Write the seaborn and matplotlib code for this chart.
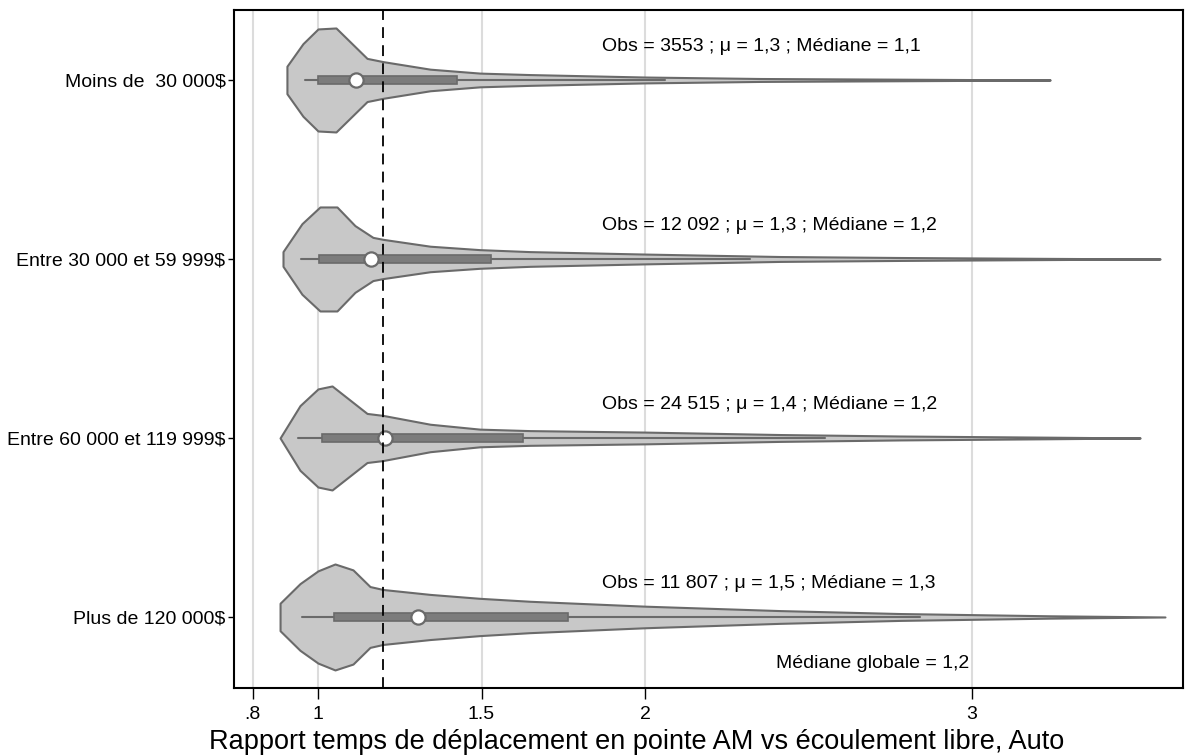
import numpy as np
import matplotlib
matplotlib.use("Agg")
import matplotlib.pyplot as plt
import seaborn as sns

# ---------------- data ----------------
categories = ["Moins de  30 000$", "Entre 30 000 et 59 999$",
              "Entre 60 000 et 119 999$", "Plus de 120 000$"]

# density outlines: x values and relative half-widths
dens_x = [
    [0.905, 0.905, 0.954, 1.000, 1.055, 1.150, 1.199, 1.343, 1.495, 1.648, 2.000, 2.352, 2.780, 3.239],
    [0.893, 0.893, 0.951, 1.006, 1.058, 1.113, 1.168, 1.199, 1.343, 1.495, 1.648, 2.000, 2.413, 2.780, 3.239, 3.575],
    [0.884, 0.945, 1.000, 1.043, 1.150, 1.199, 1.343, 1.495, 1.648, 2.000, 2.413, 2.780, 3.239, 3.514],
    [0.884, 0.884, 0.945, 1.000, 1.052, 1.107, 1.159, 1.199, 1.343, 1.495, 1.648, 2.000, 2.413, 2.780, 3.239, 3.590],
]
dens_h = [
    [0, 14, 37, 52, 53, 22, 18.7, 11, 7, 5.5, 3, 1.5, 0.8, 0],
    [0, 7.5, 36, 53, 53, 34, 22, 20, 13, 9.5, 7.5, 5, 2.5, 1.5, 0.6, 0],
    [0, 33, 50, 53, 25, 23, 14, 9, 7.5, 6, 3.5, 2, 0.8, 0],
    [0, 14, 34, 47, 54, 48, 31, 28, 23, 19, 16, 11, 6.5, 3.5, 1.2, 0],
]

whisk_lo = [0.960, 0.948, 0.939, 0.951]
q1 = [1.000, 1.003, 1.012, 1.049]
medians = [1.116, 1.162, 1.205, 1.306]
q3 = [1.425, 1.529, 1.627, 1.765]
whisk_hi = [2.06, 2.32, 2.55, 2.84]

annotations = ["Obs = 3553 ; μ = 1,3 ; Médiane = 1,1",
               "Obs = 12 092 ; μ = 1,3 ; Médiane = 1,2",
               "Obs = 24 515 ; μ = 1,4 ; Médiane = 1,2",
               "Obs = 11 807 ; μ = 1,5 ; Médiane = 1,3"]
global_median = 1.2
global_label = "Médiane globale = 1,2"

xticks = [0.8, 1, 1.5, 2, 3]
xticklabels = [".8", "1", "1.5", "2", "3"]
xlabel = "Rapport temps de déplacement en pointe AM vs écoulement libre, Auto"

# ---------------- style ----------------
sns.set_theme(style="white")
plt.rcParams["font.family"] = ["Liberation Sans", "DejaVu Sans"]

fig = plt.figure(figsize=(11.93, 7.56), dpi=100)
ax = fig.add_axes([0.1961, 0.0899, 0.9916 - 0.1961, 0.9868 - 0.0899])

ax.set_xlim(0.743, 3.645)
ax.set_ylim(3.397, -0.391)

for t in xticks:
    ax.axvline(t, color="#dcdcdc", lw=1.5, zorder=0)

max_w = 0.296
hmax = max(max(h) for h in dens_h)
edge = "#6a6a6a"
for i in range(len(categories)):
    x = np.array(dens_x[i])
    h = np.array(dens_h[i]) / hmax * max_w
    ax.fill_between(x, i - h, i + h, facecolor="#c8c8c8", edgecolor=edge,
                    linewidth=1.5, zorder=2)
    ax.plot([whisk_lo[i], whisk_hi[i]], [i, i], color=edge, lw=1.5, zorder=3)
    bh = 0.045
    ax.add_patch(plt.Rectangle((q1[i], i - bh / 2), q3[i] - q1[i], bh,
                               facecolor="#7c7c7c", edgecolor=edge, lw=1.2, zorder=4))

sns.scatterplot(x=medians, y=list(range(len(categories))), ax=ax, s=105,
                color="white", edgecolor=edge, linewidth=1.6, zorder=5, legend=False)

ax.axvline(global_median, color="black", lw=1.3, ls=(0, (6, 4)), zorder=6)

fs = 14
for i, txt in enumerate(annotations):
    ax.text(1.869, i - 0.185, txt, fontsize=fs, va="center", ha="left", color="black")
ax.text(2.99, 3.26, global_label, fontsize=fs, va="center", ha="right", color="black")

ax.set_yticks(range(len(categories)))
ax.set_yticklabels(categories, fontsize=fs, color="black")
ax.set_xticks(xticks)
ax.set_xticklabels(xticklabels, fontsize=fs, color="black")
ax.set_xlabel(xlabel, fontsize=19.5, color="black")
ax.xaxis.set_label_coords(0.424, -0.080)
ax.xaxis.label.set_va("center")
ax.set_ylabel("")

ax.tick_params(axis="x", which="both", bottom=True, length=8, width=1.0, color="black", pad=5)
ax.tick_params(axis="y", which="both", left=True, length=4, width=1.0, color="black", pad=2)
for s in ax.spines.values():
    s.set_visible(True)
    s.set_color("black")
    s.set_linewidth(1.5)

fig.savefig("out.png", dpi=100)
